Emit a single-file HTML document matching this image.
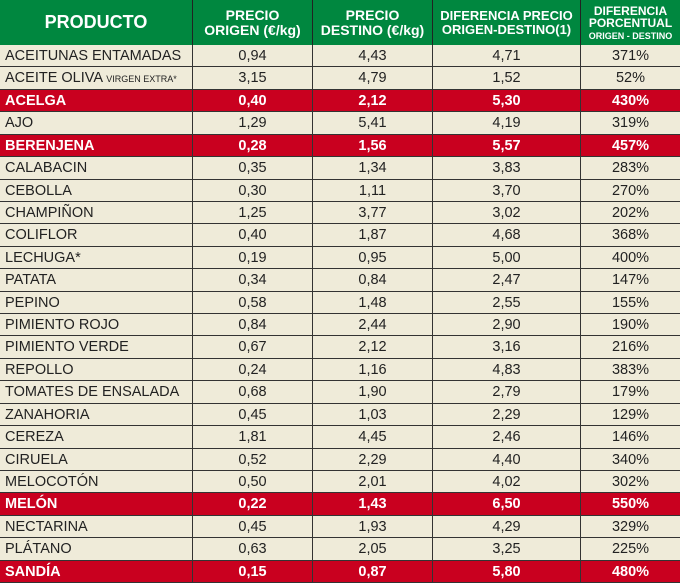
<!DOCTYPE html><html><head><meta charset="utf-8"><style>
body{margin:0;width:680px;height:582px;overflow:hidden;background:#efebd9;font-family:"Liberation Sans",sans-serif}
.h{position:absolute;top:0;height:45px;background:#00873f;color:#fff;font-weight:bold;text-align:center;display:flex;align-items:center;justify-content:center;line-height:1.05;border-right:1.5px solid #222;box-sizing:border-box}
.r{position:absolute;left:0;width:680px;height:22.42px;border-bottom:1.3px solid #333;box-sizing:border-box;font-size:14.5px;color:#222}
.r.red{background:#c9001f;color:#fff;font-weight:bold}
.r div{position:absolute;top:0;height:100%;line-height:22.5px;border-right:1.5px solid #333;box-sizing:border-box;text-align:center}
.c1{left:0;width:193px;text-align:left!important;padding-left:5px}
.c2{left:193px;width:120px}.c3{left:313px;width:120px}.c4{left:433px;width:148px}.c5{left:581px;width:99px;border-right:none!important}
small{font-size:9px}
</style></head><body>
<div class="h" style="left:0;width:193px;font-size:18px"><div>PRODUCTO</div></div>
<div class="h" style="left:193px;width:120px;font-size:14px"><div>PRECIO<br>ORIGEN (€/kg)</div></div>
<div class="h" style="left:313px;width:120px;font-size:14px"><div>PRECIO<br>DESTINO (€/kg)</div></div>
<div class="h" style="left:433px;width:148px;font-size:13px"><div>DIFERENCIA PRECIO<br>ORIGEN-DESTINO(1)</div></div>
<div class="h" style="left:581px;width:99px;font-size:12px;border-right:none;line-height:1"><div>DIFERENCIA<br>PORCENTUAL<br><span style="font-size:9px">ORIGEN - DESTINO</span></div></div>
<div id="t"></div>
<script>
var d=[["ACEITUNAS ENTAMADAS","0,94","4,43","4,71","371%"],["ACEITE OLIVA <small>VIRGEN EXTRA*</small>","3,15","4,79","1,52","52%"],["ACELGA","0,40","2,12","5,30","430%",1],["AJO","1,29","5,41","4,19","319%"],["BERENJENA","0,28","1,56","5,57","457%",1],["CALABACIN","0,35","1,34","3,83","283%"],["CEBOLLA","0,30","1,11","3,70","270%"],["CHAMPIÑON","1,25","3,77","3,02","202%"],["COLIFLOR","0,40","1,87","4,68","368%"],["LECHUGA*","0,19","0,95","5,00","400%"],["PATATA","0,34","0,84","2,47","147%"],["PEPINO","0,58","1,48","2,55","155%"],["PIMIENTO ROJO","0,84","2,44","2,90","190%"],["PIMIENTO VERDE","0,67","2,12","3,16","216%"],["REPOLLO","0,24","1,16","4,83","383%"],["TOMATES DE ENSALADA","0,68","1,90","2,79","179%"],["ZANAHORIA","0,45","1,03","2,29","129%"],["CEREZA","1,81","4,45","2,46","146%"],["CIRUELA","0,52","2,29","4,40","340%"],["MELOCOTÓN","0,50","2,01","4,02","302%"],["MELÓN","0,22","1,43","6,50","550%",1],["NECTARINA","0,45","1,93","4,29","329%"],["PLÁTANO","0,63","2,05","3,25","225%"],["SANDÍA","0,15","0,87","5,80","480%",1]];
var h="";d.forEach(function(r,i){h+='<div class="r'+(r[5]?' red':'')+'" style="top:'+(45+i*22.42)+'px">';for(var j=0;j<5;j++)h+='<div class="c'+(j+1)+'">'+r[j]+'</div>';h+='</div>';});
document.getElementById("t").innerHTML=h;
</script></body></html>
